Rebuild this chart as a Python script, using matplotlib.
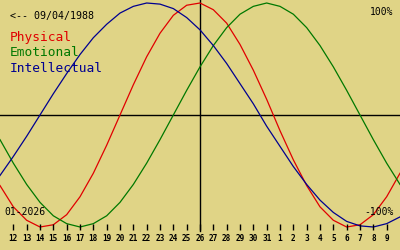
import numpy as np
import matplotlib
matplotlib.use("Agg")
import matplotlib.pyplot as plt

# days relative to 26 Jan 2026 (the marked day)
offsets = list(range(-15, 16))

physical = [-0.63, -0.82, -0.94, -1.00, -0.98, -0.89, -0.73, -0.52, -0.27, 0.00,
            0.27, 0.52, 0.73, 0.89, 0.98, 1.00, 0.94, 0.82, 0.63, 0.40,
            0.14, -0.14, -0.40, -0.63, -0.82, -0.94, -1.00, -0.98, -0.89, -0.73, -0.52]
emotional = [-0.22, -0.43, -0.62, -0.78, -0.90, -0.97, -1.00, -0.97, -0.90, -0.78,
             -0.62, -0.43, -0.22, 0.00, 0.22, 0.43, 0.62, 0.78, 0.90, 0.97,
             1.00, 0.97, 0.90, 0.78, 0.62, 0.43, 0.22, 0.00, -0.22, -0.43, -0.62]
intellectual = [-0.54, -0.37, -0.19, 0.00, 0.19, 0.37, 0.54, 0.69, 0.81, 0.91,
                0.97, 1.00, 0.99, 0.95, 0.87, 0.76, 0.62, 0.46, 0.28, 0.10,
                -0.10, -0.28, -0.46, -0.62, -0.76, -0.87, -0.95, -0.99, -1.00, -0.97, -0.91]

tick_offsets = list(range(-14, 15))
tick_days = list(range(12, 32)) + list(range(1, 10))

birth_label = "<-- 09/04/1988"
month_label = "01-2026"
names = ["Physical", "Emotional", "Intellectual"]
colors = ["#e00000", "#007800", "#000090"]

bg = "#e0d486"
mono = "DejaVu Sans Mono"

fig = plt.figure(figsize=(4, 2.5), dpi=100, facecolor=bg)
ax = fig.add_axes([0, 0, 1, 1])
ax.set_facecolor(bg)
ax.set_xlim(-15, 15)
ax.set_ylim(-135 / 112, 115 / 112)
ax.axis("off")

# axes cross
ax.axhline(0, color="black", lw=1.0)
ax.axvline(0, ymin=19 / 250, ymax=1, color="black", lw=1.0)

for vals, c in zip([physical, emotional, intellectual], colors):
    ax.plot(offsets, vals, color=c, lw=0.9)

# day ticks
ax.vlines(tick_offsets, -109 / 112, -115 / 112, color="black", lw=1.0)
for off, d in zip(tick_offsets, tick_days):
    ax.text(off, -123 / 112, str(d), ha="center", va="center",
            fontsize=5.6, family=mono, fontweight="bold", color="black")

ax.text(-14.25, 99 / 112, birth_label, ha="left", va="center",
        fontsize=7.2, family=mono, color="black")
for i, (n, c) in enumerate(zip(names, colors)):
    ax.text(-14.25, (77 - 15 * i) / 112, n, ha="left", va="center",
            fontsize=9.3, family=mono, color=c)

ax.text(14.5, 103 / 112, "100%", ha="right", va="center",
        fontsize=7, family=mono, color="black")
ax.text(14.5, -97 / 112, "-100%", ha="right", va="center",
        fontsize=7, family=mono, color="black")
ax.text(-14.65, -97 / 112, month_label, ha="left", va="center",
        fontsize=7, family=mono, color="black")

fig.savefig("out.png", dpi=100, facecolor=bg)
